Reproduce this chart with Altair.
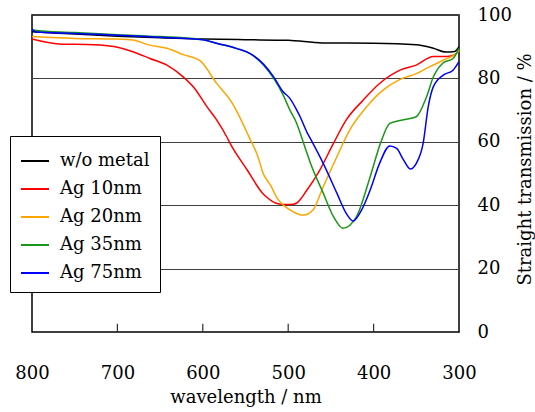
import altair as alt
import pandas as pd

series_names = ["w/o metal", "Ag 10nm", "Ag 20nm", "Ag 35nm", "Ag 75nm"]
series_colors = ["#000000", "#ff0000", "#ffa500", "#1a961a", "#0000ff"]

wl_black = [800, 750, 700, 650, 600, 550, 500, 460, 400, 350, 330, 315, 305, 300]
tr_black = [94.7, 94.0, 93.3, 92.8, 92.4, 92.2, 92.0, 91.2, 91.1, 90.6, 89.5, 88.3, 88.5, 90.0]

wl_red = [800, 765, 750, 720, 700, 682, 662, 642, 623, 610, 595, 584, 572, 568, 548, 530, 525, 514, 505, 494, 490, 478, 463, 447, 432, 412, 393, 369, 350, 330, 314, 305, 300]
tr_red = [92.4, 90.8, 90.8, 90.5, 89.8, 88.4, 86.3, 84.2, 80.5, 77.0, 71.0, 67.0, 61.6, 59.5, 51.1, 43.8, 42.5, 40.6, 40.2, 40.3, 40.7, 44.8, 51.1, 59.5, 66.9, 73.2, 78.4, 82.6, 84.2, 86.9, 86.9, 87.5, 89.0]

wl_orange = [800, 750, 700, 682, 662, 642, 623, 603, 584, 565, 560, 545, 535, 530, 520, 514, 498, 486, 482, 471, 459, 443, 428, 408, 389, 369, 350, 334, 318, 301, 300]
tr_orange = [93.2, 92.6, 92.4, 92.1, 90.5, 89.5, 87.5, 85.5, 78.5, 72.0, 69.5, 61.0, 55.0, 50.5, 46.0, 42.7, 38.5, 37.0, 36.9, 38.5, 45.8, 55.3, 63.7, 71.1, 76.3, 79.7, 81.5, 83.7, 85.8, 88.4, 89.0]

wl_green = [800, 780, 750, 700, 650, 600, 584, 560, 545, 529, 517, 506, 498, 490, 486, 478, 474, 459, 447, 436, 420, 404, 392, 381, 366, 350, 338, 330, 319, 307, 300]
tr_green = [95.3, 94.8, 94.5, 93.8, 93.2, 92.2, 91.1, 89.4, 87.9, 84.2, 80.0, 74.8, 70.0, 65.8, 62.8, 56.4, 53.3, 43.8, 36.4, 32.7, 36.4, 49.0, 59.5, 65.8, 66.9, 67.9, 74.2, 80.5, 84.8, 86.3, 89.5]

wl_blue = [800, 795, 750, 700, 650, 600, 584, 560, 545, 529, 517, 506, 498, 490, 486, 478, 474, 459, 443, 432, 424, 414, 404, 393, 381, 373, 365, 357, 350, 342, 336, 330, 318, 307, 300]
tr_blue = [95.6, 94.6, 94.2, 93.6, 93.0, 92.2, 91.1, 89.4, 87.9, 84.5, 80.5, 75.8, 73.7, 70.0, 67.9, 63.0, 61.0, 53.2, 43.8, 37.4, 35.0, 38.5, 44.8, 53.2, 58.7, 57.9, 54.3, 51.4, 53.2, 59.5, 71.1, 77.4, 81.1, 82.6, 85.3]

x_ticks = [800, 700, 600, 500, 400, 300]
y_ticks = [0, 20, 40, 60, 80, 100]
inner_ticks = [700, 600, 500, 400]

rows = []
for name, wls, trs in zip(series_names,
                          [wl_black, wl_red, wl_orange, wl_green, wl_blue],
                          [tr_black, tr_red, tr_orange, tr_green, tr_blue]):
    for i, (w, t) in enumerate(zip(wls, trs)):
        rows.append({"series": name, "wl": w, "tr": t, "order": i})
df = pd.DataFrame(rows)

FONT = "DejaVu Serif"

x_scale = alt.Scale(domain=[300, 800], reverse=True, nice=False, zero=False)
y_scale = alt.Scale(domain=[0, 100], nice=False)

lines = alt.Chart(df).mark_line(strokeWidth=1.5, interpolate="monotone").encode(
    x=alt.X("wl:Q", scale=x_scale,
            axis=alt.Axis(title="wavelength / nm", values=x_ticks, format="d",
                          ticks=False, domain=False, grid=False, labelFlush=False,
                          labelPadding=32, labelFontSize=18, labelFont=FONT,
                          labelColor="black", titleFont=FONT, titleFontSize=18,
                          titleFontWeight="normal", titleColor="black",
                          titlePadding=6)),
    y=alt.Y("tr:Q", scale=y_scale,
            axis=alt.Axis(title="Straight transmission / %", orient="right",
                          values=y_ticks, ticks=False, domain=False, grid=True,
                          labelFlush=False,
                          gridColor="#404040", gridWidth=1, gridOpacity=1,
                          labelPadding=18, labelFontSize=18, labelFont=FONT,
                          labelColor="black", titleFont=FONT, titleFontSize=18,
                          titleFontWeight="normal", titleColor="black",
                          titleAngle=270, titleBaseline="middle",
                          titleX=66, titleY=154)),
    color=alt.Color("series:N",
                    scale=alt.Scale(domain=series_names, range=series_colors),
                    legend=alt.Legend(title=None, orient="none", legendX=-22, legendY=121,
                                      symbolType="stroke", symbolSize=784,
                                      symbolStrokeWidth=2, labelFont=FONT,
                                      labelFontSize=18, labelColor="black",
                                      rowPadding=4, padding=10,
                                      strokeColor="black", fillColor="white",
                                      labelOffset=10)),
    order=alt.Order("order:Q"),
)

tick_df = pd.DataFrame({"wl": inner_ticks, "y0": [0] * 4, "y1": [2.6] * 4})
ticks = alt.Chart(tick_df).mark_rule(color="#303030", strokeWidth=1.2).encode(
    x=alt.X("wl:Q", scale=x_scale),
    y=alt.Y("y0:Q", scale=y_scale),
    y2="y1:Q",
)

chart = alt.layer(ticks, lines).properties(
    width=427, height=317,
    autosize=alt.AutoSizeParams(type="none"),
    padding={"left": 32, "top": 15, "right": 76, "bottom": 80},
    background="white",
).configure_view(stroke="black", strokeWidth=1.5)

chart.save("out.html", embed_options={"renderer": "svg", "actions": False})
